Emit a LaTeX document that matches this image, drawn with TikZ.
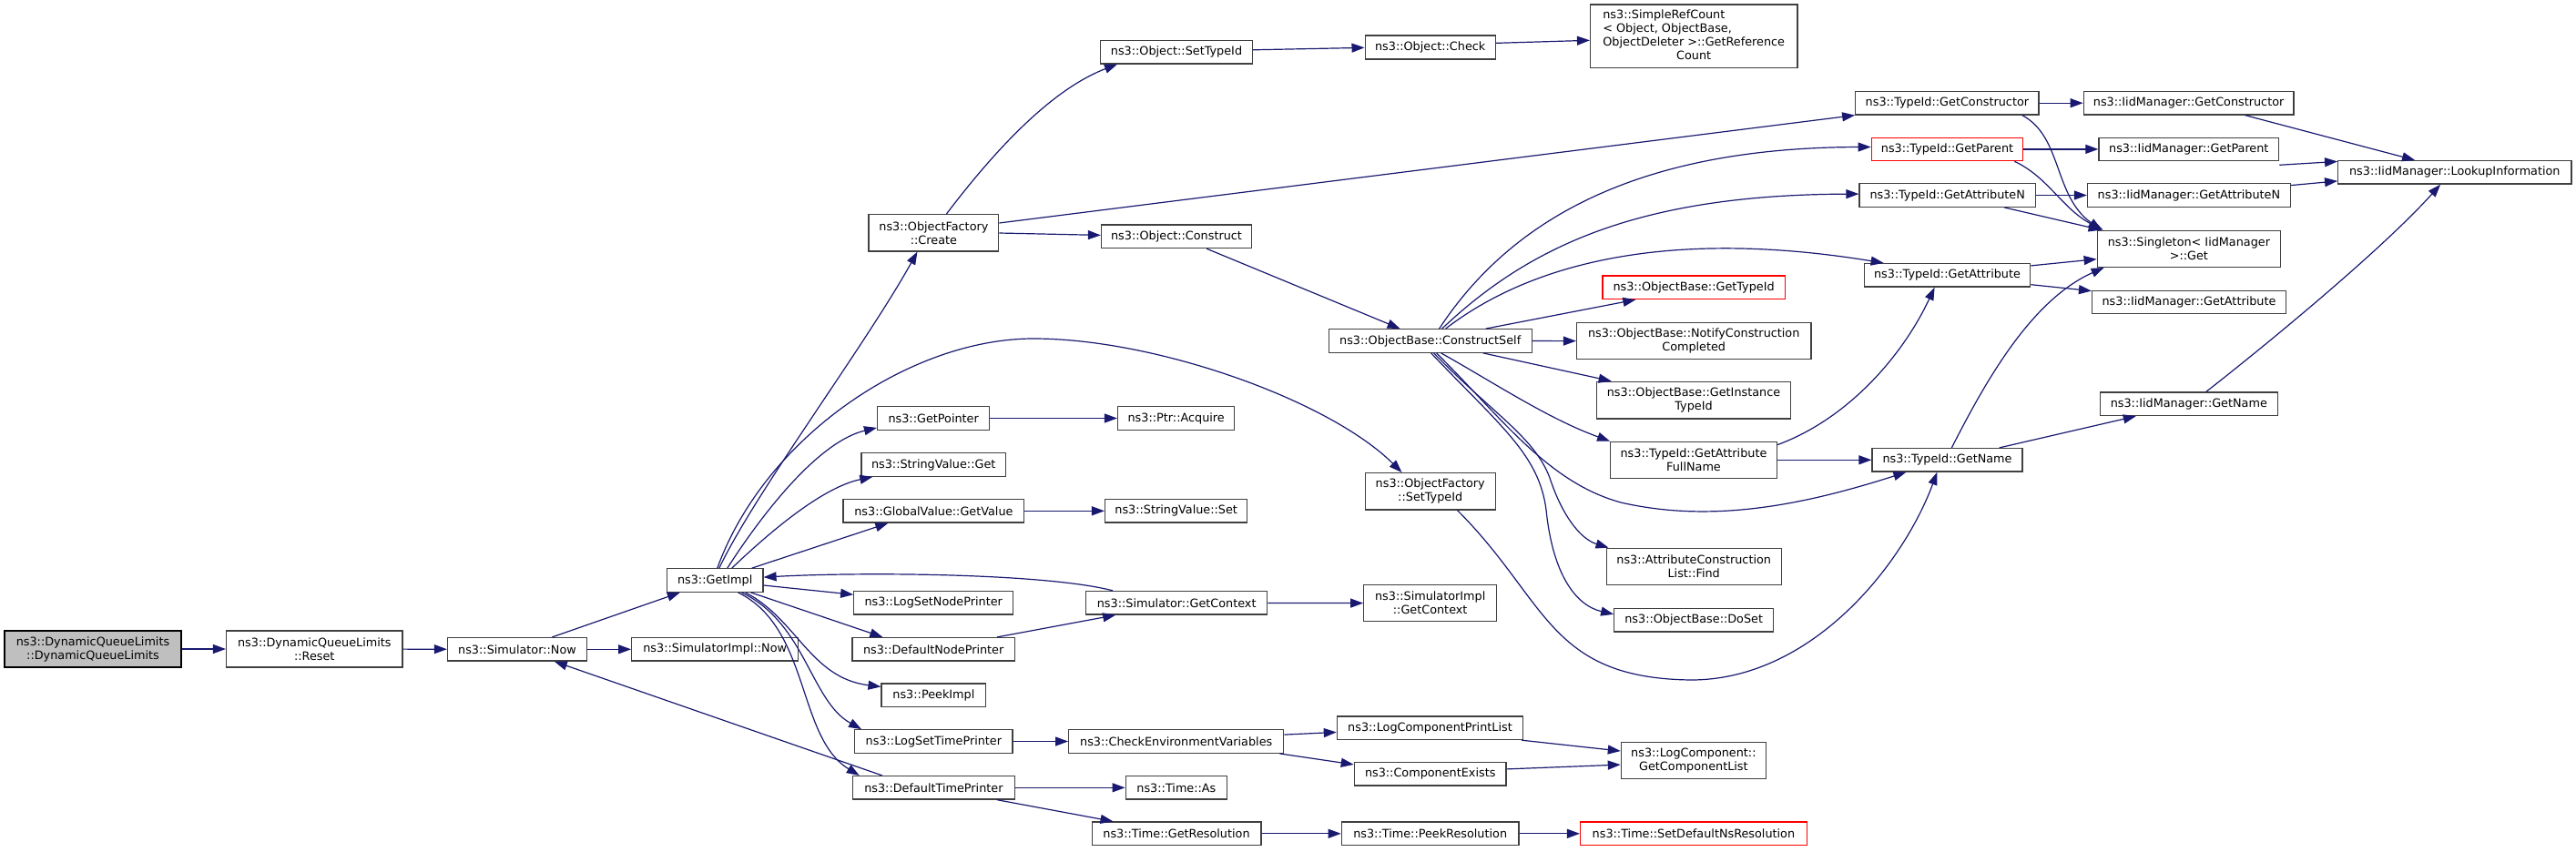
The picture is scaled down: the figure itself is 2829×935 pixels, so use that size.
\documentclass[tikz,border=0pt]{standalone}
\usepackage{fontspec}
\newfontfamily\dvs{DejaVu Sans}
\usetikzlibrary{arrows.meta}
\definecolor{edgec}{HTML}{191970}
\definecolor{nodeb}{HTML}{404040}
\definecolor{rootf}{HTML}{BFBFBF}
\begin{document}
\begin{tikzpicture}[x=1pt,y=-1pt,
  box/.style={draw=nodeb, fill=white, line width=1.3pt, inner sep=0pt, align=center,
    minimum height=25.5pt, font=\dvs\fontsize{12.8}{15}\selectfont},
  redbox/.style={box, draw=red},
  rootbox/.style={box, draw=black, fill=rootf},
  call/.style={draw=edgec, line width=1.2pt, -{Triangle[length=14pt,width=10pt]}}]
\useasboundingbox (0,0) rectangle (2829,935);

% nodes
\node[rootbox, minimum width=194pt, minimum height=40pt] (dql) at (102,713) {ns3::DynamicQueueLimits\\::DynamicQueueLimits};
\node[box, minimum width=193.4pt, minimum height=40pt] (reset) at (345.3,713) {ns3::DynamicQueueLimits\\::Reset};
\node[box, minimum width=153pt] (simnow) at (568,713.3) {ns3::Simulator::Now};
\node[box, minimum width=183pt] (simimplnow) at (785.2,713.3) {ns3::SimulatorImpl::Now};
\node[box, minimum width=105.5pt] (getimpl) at (785.2,637.5) {ns3::GetImpl};
\node[box, minimum width=142.6pt, minimum height=40.3pt] (create) at (1025.4,255.8) {ns3::ObjectFactory\\::Create};
\node[box, minimum width=123.2pt] (getpointer) at (1025.2,459.5) {ns3::GetPointer};
\node[box, minimum width=158.5pt] (svget) at (1025.2,510.5) {ns3::StringValue::Get};
\node[box, minimum width=198.8pt] (gvget) at (1025.4,561.3) {ns3::GlobalValue::GetValue};
\node[box, minimum width=174.8pt] (logsetnode) at (1025.2,662.3) {ns3::LogSetNodePrinter};
\node[box, minimum width=178.4pt] (defnode) at (1025.2,713.3) {ns3::DefaultNodePrinter};
\node[box, minimum width=114.6pt] (peekimpl) at (1025.4,763.8) {ns3::PeekImpl};
\node[box, minimum width=173.4pt] (logsettime) at (1025.4,814.5) {ns3::LogSetTimePrinter};
\node[box, minimum width=178pt] (deftime) at (1025.4,865.3) {ns3::DefaultTimePrinter};
\node[box, minimum width=166.7pt] (objsettid) at (1292,57.2) {ns3::Object::SetTypeId};
\node[box, minimum width=165pt] (objconstruct) at (1292,259.8) {ns3::Object::Construct};
\node[box, minimum width=128.2pt] (ptracq) at (1291.7,459.5) {ns3::Ptr::Acquire};
\node[box, minimum width=156.2pt] (svset) at (1291.7,561.3) {ns3::StringValue::Set};
\node[box, minimum width=198.8pt] (simgetctx) at (1292.2,662.3) {ns3::Simulator::GetContext};
\node[box, minimum width=236pt] (checkenv) at (1291.7,814.5) {ns3::CheckEnvironmentVariables};
\node[box, minimum width=111.4pt] (timeas) at (1291.9,865.3) {ns3::Time::As};
\node[box, minimum width=185.7pt] (timegetres) at (1292,915.8) {ns3::Time::GetResolution};
\node[box, minimum width=143.1pt, minimum height=26pt] (objcheck) at (1570.7,52) {ns3::Object::Check};
\node[box, minimum width=222.9pt] (cself) at (1570.7,374.5) {ns3::ObjectBase::ConstructSelf};
\node[box, minimum width=143.1pt, minimum height=40.3pt] (ofsettid) at (1570.7,539.8) {ns3::ObjectFactory\\::SetTypeId};
\node[box, minimum width=145.9pt, minimum height=40pt] (simimplgetctx) at (1570.7,662.7) {ns3::SimulatorImpl\\::GetContext};
\node[box, minimum width=204.2pt] (lcprint) at (1570.5,799.8) {ns3::LogComponentPrintList};
\node[box, minimum width=166.7pt] (compexists) at (1570.7,850.3) {ns3::ComponentExists};
\node[box, minimum width=194.7pt] (peekres) at (1570.7,915.8) {ns3::Time::PeekResolution};
\node[box, minimum width=227.3pt, minimum height=69.7pt] (simpleref) at (1860.2,39.8)
  {\begin{tabular}{@{}l@{}}ns3::SimpleRefCount\\{<} Object, ObjectBase,\\\multicolumn{1}{@{}c@{}}{ObjectDeleter {>}::GetReference}\\\multicolumn{1}{@{}c@{}}{Count}\end{tabular}};
\node[redbox, minimum width=200.2pt] (obgettid) at (1860.1,315.8) {ns3::ObjectBase::GetTypeId};
\node[box, minimum width=257.3pt, minimum height=40pt] (notify) at (1860.2,374.7) {ns3::ObjectBase::NotifyConstruction\\Completed};
\node[box, minimum width=213.4pt, minimum height=40.7pt] (getinst) at (1860,439.7) {ns3::ObjectBase::GetInstance\\TypeId};
\node[box, minimum width=182.6pt, minimum height=40pt] (gafull) at (1860,505.3) {ns3::TypeId::GetAttribute\\FullName};
\node[box, minimum width=192.1pt, minimum height=40.4pt] (attrfind) at (1860.2,622.5) {ns3::AttributeConstruction\\List::Find};
\node[box, minimum width=174.9pt] (doset) at (1860.2,681.2) {ns3::ObjectBase::DoSet};
\node[box, minimum width=159pt, minimum height=40pt] (getcomplist) at (1859.9,835.7) {ns3::LogComponent::\\GetComponentList};
\node[redbox, minimum width=248.6pt] (setdefns) at (1859.9,915.8) {ns3::Time::SetDefaultNsResolution};
\node[box, minimum width=201.3pt] (tidctor) at (2138.4,113.2) {ns3::TypeId::GetConstructor};
\node[redbox, minimum width=166.5pt] (tidparent) at (2138.5,163.9) {ns3::TypeId::GetParent};
\node[box, minimum width=193.3pt] (tidattrn) at (2138.7,214.5) {ns3::TypeId::GetAttributeN};
\node[box, minimum width=182.5pt] (tidattr) at (2138.5,302.3) {ns3::TypeId::GetAttribute};
\node[box, minimum width=165pt] (tidname) at (2138.5,505.3) {ns3::TypeId::GetName};
\node[box, minimum width=230.6pt] (iidctor) at (2403.6,113.2) {ns3::IidManager::GetConstructor};
\node[box, minimum width=197.6pt] (iidparent) at (2403.8,163.9) {ns3::IidManager::GetParent};
\node[box, minimum width=222.7pt] (iidattrn) at (2403.9,214.5) {ns3::IidManager::GetAttributeN};
\node[box, minimum width=201.3pt, minimum height=40pt] (singleton) at (2403.9,273.3) {ns3::Singleton< IidManager\\>::Get};
\node[box, minimum width=212.9pt] (iidattr) at (2404,332) {ns3::IidManager::GetAttribute};
\node[box, minimum width=194.8pt] (iidname) at (2403.8,443.8) {ns3::IidManager::GetName};
\node[box, minimum width=256.2pt] (lookup) at (2695.8,189.3) {ns3::IidManager::LookupInformation};

% edges
\draw[call] (dql) -- (reset);
\draw[call] (reset) -- (simnow);
\draw[call] (simnow) -- (getimpl);
\draw[call] (simnow) -- (simimplnow);
\draw[call] ([xshift=58pt]getimpl.north west) .. controls (830,540) and (950,380) .. ([xshift=54pt]create.south west);
\draw[call] ([xshift=56pt]getimpl.north west) .. controls (840,480) and (1000,372) .. (1135,372)
  .. controls (1270,372) and (1460,440) .. ([xshift=41pt]ofsettid.north west);
\draw[call] ([xshift=67pt]getimpl.north west) .. controls (840,560) and (900,485) .. ([yshift=3pt]getpointer.south west);
\draw[call] ([xshift=72pt]getimpl.north west) .. controls (850,580) and (905,535) .. ([xshift=13pt]svget.south west);
\draw[call] ([xshift=94pt]getimpl.north west) -- ([xshift=50pt]gvget.south west);
\draw[call] (getimpl) -- (logsetnode);
\draw[call] ([xshift=-14pt]getimpl.south east) -- ([xshift=34pt]defnode.north west);
\draw[call] ([xshift=-20pt]getimpl.south east) .. controls (875,680) and (890,745) .. ([yshift=-4pt]peekimpl.north west);
\draw[call] ([xshift=-24pt]getimpl.south east) .. controls (885,685) and (890,770) .. ([xshift=8pt]logsettime.north west);
\draw[call] ([xshift=-28pt]getimpl.south east) .. controls (890,690) and (875,810) .. ([xshift=8pt]deftime.north west);
\draw[call] ([xshift=30pt]simgetctx.north west) .. controls (1150,630) and (950,628) .. ([yshift=-10pt]getimpl.north east);
\draw[call] ([xshift=-20pt]defnode.north east) -- ([xshift=33pt]simgetctx.south west);
\draw[call] (simgetctx) -- (simimplgetctx);
\draw[call] ([xshift=33pt]deftime.north west) -- ([xshift=118pt]simnow.south west);
\draw[call] (deftime) -- (timeas);
\draw[call] ([xshift=-20pt]deftime.south east) -- ([xshift=24pt]timegetres.north west);
\draw[call] (logsettime) -- (checkenv);
\draw[call] ([yshift=-6pt]checkenv.north east) -- ([yshift=-18pt]lcprint.north west);
\draw[call] ([xshift=-5pt]checkenv.south east) -- ([yshift=-3pt]compexists.north west);
\draw[call] ([xshift=-2pt]lcprint.south east) -- ([yshift=-10pt]getcomplist.north west);
\draw[call] ([yshift=-8pt]compexists.north east) -- ([yshift=-25pt]getcomplist.north west);
\draw[call] (timegetres) -- (peekres);
\draw[call] (peekres) -- (setdefns);
\draw[call] (getpointer) -- (ptracq);
\draw[call] (gvget) -- (svset);
\draw[call] ([xshift=86pt]create.north west) .. controls (1085,175) and (1150,100) .. ([xshift=19pt]objsettid.south west);
\draw[call] ([yshift=-10pt]create.north east) -- (tidctor.south west);
\draw[call] ([yshift=-21pt]create.north east) -- ([yshift=-12pt]objconstruct.north west);
\draw[call] ([yshift=-11pt]objsettid.north east) -- ([yshift=-14pt]objcheck.north west);
\draw[call] ([yshift=-9pt]objcheck.north east) -- ([yshift=-40pt]simpleref.north west);
\draw[call] ([xshift=-50pt]objconstruct.south east) -- ([xshift=79pt]cself.north west);
\draw[call] ([xshift=122pt]cself.north west) .. controls (1660,240) and (1800,162) .. ([yshift=-11pt]tidparent.north west);
\draw[call] ([xshift=125pt]cself.north west) .. controls (1680,270) and (1800,214) .. ([yshift=-12pt]tidattrn.north west);
\draw[call] ([xshift=129pt]cself.north west) .. controls (1680,290) and (1830,250) .. ([xshift=22pt]tidattr.north west);
\draw[call] ([xshift=173pt]cself.north west) -- ([xshift=37pt]obgettid.south west);
\draw[call] (cself) -- (notify);
\draw[call] ([xshift=-54pt]cself.south east) -- ([xshift=17pt]getinst.north west);
\draw[call] ([xshift=124pt]cself.south west) .. controls (1640,420) and (1700,460) .. (gafull.north west);
\draw[call] ([xshift=119pt]cself.south west) .. controls (1650,460) and (1700,530) .. (1780,552)
  .. controls (1880,575) and (1980,555) .. ([xshift=38pt]tidname.south west);
\draw[call] ([xshift=116pt]cself.south west) .. controls (1640,455) and (1685,480) .. (1702,525)
  .. controls (1715,565) and (1735,592) .. ([xshift=3pt]attrfind.north west);
\draw[call] ([xshift=113pt]cself.south west) .. controls (1650,470) and (1690,500) .. (1698,560)
  .. controls (1705,630) and (1730,665) .. ([yshift=-7pt]doset.north west);
\draw[call] ([xshift=102pt]ofsettid.south west) .. controls (1700,660) and (1700,745) .. (1857,747)
  .. controls (1990,747) and (2090,620) .. ([xshift=72pt]tidname.south west);
\draw[call] (gafull) -- (tidname);
\draw[call] ([yshift=-4pt]gafull.north east) .. controls (2030,460) and (2090,390) .. ([xshift=78pt]tidattr.south west);
\draw[call] (tidctor) -- (iidctor);
\draw[call] ([xshift=-19pt]tidctor.south east) .. controls (2265,150) and (2255,215) .. ([xshift=5pt]singleton.north west);
\draw[call] (tidparent) -- (iidparent);
\draw[call] ([xshift=-10pt]tidparent.south east) .. controls (2250,195) and (2265,230) .. ([xshift=7pt]singleton.north west);
\draw[call] (tidattrn) -- (iidattrn);
\draw[call] ([xshift=-35pt]tidattrn.south east) -- ([xshift=5pt]singleton.north west);
\draw[call] ([yshift=-3pt]tidattr.north east) -- ([yshift=-32pt]singleton.north west);
\draw[call] ([yshift=3pt]tidattr.south east) -- ([yshift=-1pt]iidattr.north west);
\draw[call] ([xshift=88pt]tidname.north west) .. controls (2180,420) and (2230,330) .. ([xshift=8pt]singleton.south west);
\draw[call] ([xshift=-26pt]tidname.north east) -- ([xshift=40pt]iidname.south west);
\draw[call] ([xshift=-54pt]iidctor.south east) -- ([xshift=85pt]lookup.north west);
\draw[call] ([yshift=-4pt]iidparent.south east) -- ([yshift=-1.5pt]lookup.north west);
\draw[call] ([yshift=-2.5pt]iidattrn.north east) -- ([yshift=-23pt]lookup.north west);
\draw[call] ([xshift=117pt]iidname.north west) .. controls (2500,370) and (2620,270) .. ([xshift=113pt]lookup.south west);
\end{tikzpicture}
\end{document}
